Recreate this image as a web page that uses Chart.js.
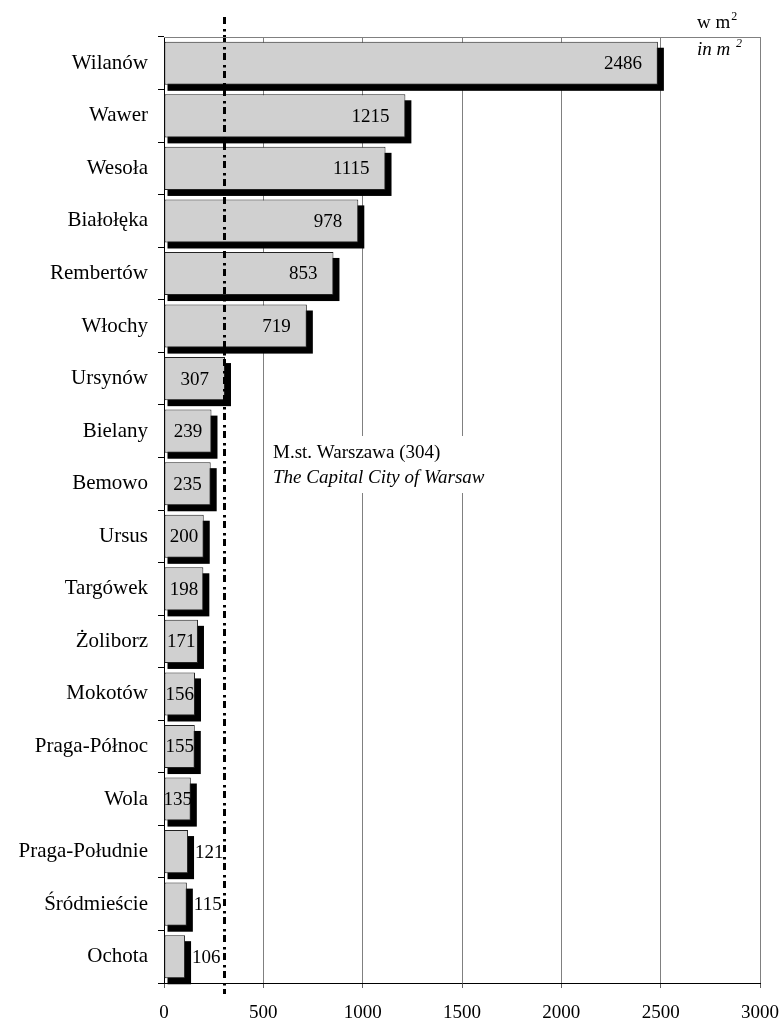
<!DOCTYPE html>
<html>
<head>
<meta charset="utf-8">
<script src="https://cdn.jsdelivr.net/npm/chart.js@4.4.1/dist/chart.umd.min.js"></script>
<style>
  html, body { margin: 0; padding: 0; background: #fff; }
  canvas { display: block; }
</style>
</head>
<body>
<canvas id="chart" width="784" height="1023"></canvas>
<script>
// Districts of Warsaw and their values (m²)
const districts = [
  'Wilanów', 'Wawer', 'Wesoła', 'Białołęka', 'Rembertów', 'Włochy',
  'Ursynów', 'Bielany', 'Bemowo', 'Ursus', 'Targówek', 'Żoliborz',
  'Mokotów', 'Praga-Północ', 'Wola', 'Praga-Południe', 'Śródmieście', 'Ochota'
];
const areaValues = [
  2486, 1215, 1115, 978, 853, 719,
  307, 239, 235, 200, 198, 171,
  156, 155, 135, 121, 115, 106
];
// City-wide reference value
const cityValue = 304;
const cityLabelPl = 'M.st. Warszawa (304)';
const cityLabelEn = 'The Capital City of Warsaw';
// Axis range and unit captions
const axisMin = 0;
const axisMax = 3000;
const axisStep = 500;
const unitPl = 'w m';
const unitEn = 'in m ';
const unitSup = '2';

const SERIF = '"Liberation Serif", "Times New Roman", serif';

// Solid black drop shadow behind each bar
const barShadow = {
  id: 'barShadow',
  beforeDatasetsDraw(chart) {
    const ctx = chart.ctx;
    const meta = chart.getDatasetMeta(0);
    ctx.save();
    ctx.fillStyle = '#000';
    meta.data.forEach(bar => {
      const p = bar.getProps(['x', 'y', 'base', 'height'], true);
      const left = p.base + 3;
      const top = p.y - p.height / 2 + 6;
      ctx.fillRect(left, top, (p.x + 6) - left, p.height);
    });
    ctx.restore();
  }
};

// Value labels, reference line and caption boxes
const overlays = {
  id: 'overlays',
  afterDatasetsDraw(chart) {
    const ctx = chart.ctx;
    const area = chart.chartArea;
    const meta = chart.getDatasetMeta(0);

    // value labels
    ctx.save();
    ctx.font = '19px ' + SERIF;
    ctx.fillStyle = '#000';
    ctx.textBaseline = 'middle';
    meta.data.forEach((bar, i) => {
      const p = bar.getProps(['x', 'y', 'base'], true);
      const w = p.x - p.base;
      const txt = String(areaValues[i]);
      if (w > 100) {
        ctx.textAlign = 'right';
        ctx.fillText(txt, p.x - 16, p.y + 1);
      } else if (w >= 25) {
        ctx.textAlign = 'center';
        ctx.fillText(txt, (p.x + p.base) / 2, p.y + 1);
      } else {
        ctx.textAlign = 'left';
        ctx.fillText(txt, p.x + 7, p.y + 1);
      }
    });
    ctx.restore();

    // caption box for the city-wide value
    ctx.save();
    ctx.fillStyle = '#fff';
    ctx.fillRect(267, 436, 228, 57);
    ctx.fillStyle = '#000';
    ctx.textAlign = 'left';
    ctx.textBaseline = 'alphabetic';
    ctx.font = '19px ' + SERIF;
    ctx.fillText(cityLabelPl, 273, 458);
    ctx.font = 'italic 19px ' + SERIF;
    ctx.fillText(cityLabelEn, 273, 483);
    ctx.restore();

    // dash-dot reference line
    const xs = chart.scales.x;
    const lx = Math.round(xs.getPixelForValue(cityValue)) + 0.5;
    ctx.save();
    ctx.strokeStyle = '#000';
    ctx.lineWidth = 3;
    ctx.setLineDash([7, 5, 2.5, 3.5]);
    ctx.beginPath();
    ctx.moveTo(lx, area.top - 20);
    ctx.lineTo(lx, area.bottom + 11);
    ctx.stroke();
    ctx.restore();
  },
  afterDraw(chart) {
    const ctx = chart.ctx;
    const area = chart.chartArea;
    ctx.save();
    // top border of the plot area
    ctx.strokeStyle = '#808080';
    ctx.lineWidth = 1;
    ctx.beginPath();
    ctx.moveTo(area.left, Math.round(area.top) + 0.5);
    ctx.lineTo(area.right, Math.round(area.top) + 0.5);
    ctx.stroke();

    // unit captions
    ctx.fillStyle = '#000';
    ctx.textAlign = 'left';
    ctx.textBaseline = 'alphabetic';
    ctx.font = '19px ' + SERIF;
    ctx.fillText(unitPl, 697, 28);
    let w = ctx.measureText(unitPl).width;
    ctx.font = '12px ' + SERIF;
    ctx.fillText(unitSup, 697 + w + 1, 20);

    ctx.font = 'italic 19px ' + SERIF;
    ctx.fillText(unitEn, 697, 55);
    w = ctx.measureText(unitEn).width;
    ctx.font = 'italic 12px ' + SERIF;
    ctx.fillText(unitSup, 697 + w + 1, 47);
    ctx.restore();
  }
};

new Chart(document.getElementById('chart'), {
  type: 'bar',
  data: {
    labels: districts,
    datasets: [{
      data: areaValues,
      backgroundColor: '#d0d0d0',
      borderColor: '#222',
      borderWidth: 1,
      borderSkipped: false,
      barPercentage: 0.82,
      categoryPercentage: 1
    }]
  },
  options: {
    indexAxis: 'y',
    responsive: false,
    animation: false,
    devicePixelRatio: 1,
    events: [],
    layout: { padding: { top: 37, right: 24, left: 0, bottom: 0 } },
    plugins: {
      legend: { display: false },
      title: { display: false },
      tooltip: { enabled: false }
    },
    scales: {
      x: {
        type: 'linear',
        min: axisMin,
        max: axisMax,
        ticks: {
          stepSize: axisStep,
          color: '#000',
          padding: 14,
          maxRotation: 0,
          font: { family: SERIF, size: 19 },
          callback: v => String(v)
        },
        grid: {
          color: '#808080',
          tickColor: '#606060',
          tickLength: 5,
          lineWidth: 1
        },
        border: { color: '#000', width: 1 },
        afterFit(scale) {
          scale.height = 40;
          scale.paddingRight = 0;
          scale.paddingLeft = 0;
        }
      },
      y: {
        type: 'category',
        ticks: {
          color: '#000',
          padding: 10,
          autoSkip: false,
          font: { family: SERIF, size: 21 }
        },
        grid: {
          offset: true,
          drawOnChartArea: false,
          tickColor: '#000',
          tickLength: 6
        },
        border: { color: '#000', width: 1 },
        afterFit(scale) { scale.width = 164; }
      }
    }
  },
  plugins: [barShadow, overlays]
});
</script>
</body>
</html>
